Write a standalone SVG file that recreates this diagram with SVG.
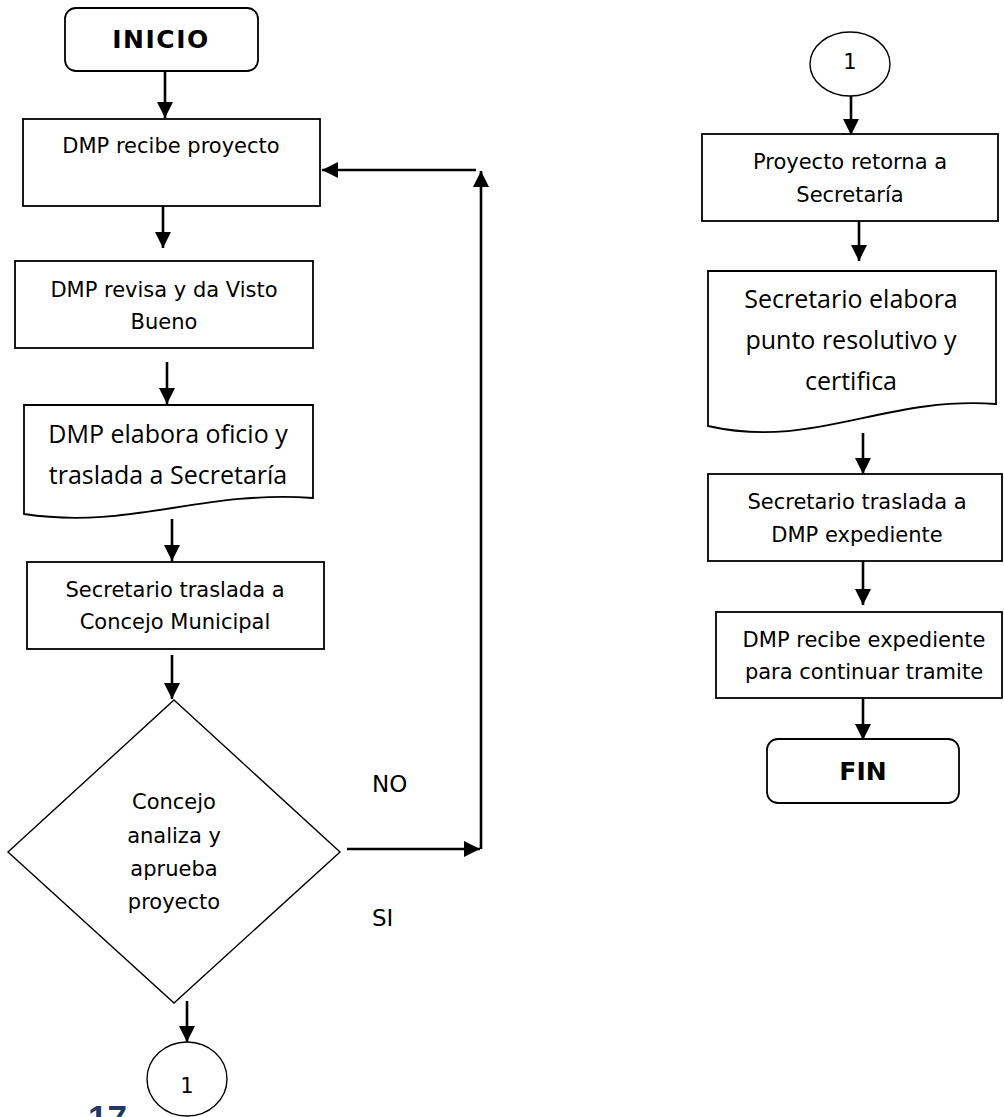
<svg xmlns="http://www.w3.org/2000/svg" width="1004" height="1117" viewBox="0 0 1004 1117">
  <defs>
    <marker id="arrow" markerUnits="userSpaceOnUse" markerWidth="16" markerHeight="16" refX="16" refY="8" orient="auto">
      <path d="M0,0 L16,8 L0,16 Z" fill="#000"/>
    </marker>
    <style>
      .box { fill: #fff; stroke: #000; stroke-width: 1.8; }
      .thin { fill: #fff; stroke: #000; stroke-width: 1.4; }
      .conn-a { fill: none; stroke: #000; stroke-width: 2.6; marker-end: url(#arrow); }
      .t { font-family: "DejaVu Sans", Verdana, sans-serif; font-size: 21px; fill: #000; text-anchor: middle; }
      .tb { font-family: "DejaVu Sans", Verdana, sans-serif; font-size: 25px; font-weight: bold; fill: #000; text-anchor: middle; }
      .td { font-family: "Open Sans", "Noto Sans", sans-serif; font-size: 25px; fill: #000; text-anchor: middle; }
      .lbl { font-family: "DejaVu Sans", Verdana, sans-serif; font-size: 23px; fill: #000; }
    </style>
  </defs>

  <rect width="1004" height="1117" fill="#fff"/>

  <!-- connectors -->
  <g id="connectors">
    <line class="conn-a" x1="165" y1="71" x2="165" y2="118"/>
    <line class="conn-a" x1="163" y1="206" x2="163" y2="248"/>
    <line class="conn-a" x1="167" y1="362" x2="167" y2="404"/>
    <line class="conn-a" x1="172" y1="519" x2="172" y2="561"/>
    <line class="conn-a" x1="172" y1="655" x2="172" y2="699"/>
    <line class="conn-a" x1="187" y1="1001" x2="187" y2="1042"/>
    <!-- NO branch back to the first step -->
    <line class="conn-a" x1="347" y1="849" x2="480" y2="849"/>
    <line class="conn-a" x1="481" y1="849" x2="481" y2="171"/>
    <line class="conn-a" x1="476" y1="170" x2="322" y2="170"/>
    <!-- right column -->
    <line class="conn-a" x1="851" y1="96" x2="851" y2="135"/>
    <line class="conn-a" x1="859" y1="221" x2="859" y2="261"/>
    <line class="conn-a" x1="863" y1="433" x2="863" y2="474"/>
    <line class="conn-a" x1="863" y1="561" x2="863" y2="605"/>
    <line class="conn-a" x1="863" y1="698" x2="863" y2="740"/>
  </g>

  <!-- left column -->
  <g id="inicio">
    <rect class="box" x="65" y="8" width="193" height="63" rx="11"/>
    <text class="tb" x="161" y="48" letter-spacing="1.5">INICIO</text>
  </g>

  <g id="recibe-proyecto">
    <rect class="box" x="23" y="119" width="297" height="87"/>
    <text class="t" x="171" y="153">DMP recibe proyecto</text>
  </g>

  <g id="revisa">
    <rect class="box" x="15" y="261" width="298" height="87"/>
    <text class="t" x="164" y="297">DMP revisa y da Visto</text>
    <text class="t" x="164" y="329">Bueno</text>
  </g>

  <g id="elabora-oficio">
    <path class="box" d="M24,405 H313 V498 C200,490 130,530 24,514 Z"/>
    <text class="td" x="168" y="443">DMP elabora oficio y</text>
    <text class="td" x="168" y="484">traslada a Secretaría</text>
  </g>

  <g id="traslada-concejo">
    <rect class="box" x="27" y="562" width="297" height="87"/>
    <text class="t" x="175" y="597">Secretario traslada a</text>
    <text class="t" x="175" y="629">Concejo Municipal</text>
  </g>

  <g id="decision">
    <polygon class="thin" points="174,700 340,852 174,1003 8,852"/>
    <text class="t" x="174" y="809">Concejo</text>
    <text class="t" x="174" y="843">analiza y</text>
    <text class="t" x="174" y="876">aprueba</text>
    <text class="t" x="174" y="909">proyecto</text>
  </g>

  <g id="labels">
    <text class="lbl" x="372" y="792">NO</text>
    <text class="lbl" x="372" y="926">SI</text>
  </g>

  <g id="conector-salida">
    <ellipse class="thin" cx="187" cy="1079" rx="40" ry="37"/>
    <text class="t" x="187" y="1093" font-size="22">1</text>
  </g>

  <!-- right column -->
  <g id="conector-entrada">
    <ellipse class="thin" cx="850" cy="64" rx="40" ry="32"/>
    <text class="t" x="850" y="69">1</text>
  </g>

  <g id="retorna">
    <rect class="box" x="702" y="134" width="296" height="87"/>
    <text class="t" x="850" y="169">Proyecto retorna a</text>
    <text class="t" x="850" y="202">Secretaría</text>
  </g>

  <g id="punto-resolutivo">
    <path class="box" d="M708,271 H996 V404 C883,396 813,450 708,426 Z"/>
    <text class="td" x="851" y="308">Secretario elabora</text>
    <text class="td" x="851" y="349">punto resolutivo y</text>
    <text class="td" x="851" y="390">certifica</text>
  </g>

  <g id="traslada-dmp">
    <rect class="box" x="708" y="474" width="294" height="87"/>
    <text class="t" x="857" y="509">Secretario traslada a</text>
    <text class="t" x="857" y="542">DMP expediente</text>
  </g>

  <g id="recibe-expediente">
    <rect class="box" x="716" y="612" width="286" height="86"/>
    <text class="t" x="864" y="647">DMP recibe expediente</text>
    <text class="t" x="864" y="679">para continuar tramite</text>
  </g>

  <g id="fin">
    <rect class="box" x="767" y="739" width="192" height="64" rx="11"/>
    <text class="tb" x="863" y="780">FIN</text>
  </g>

  <!-- page number, cut by the page edge -->
  <text x="88" y="1130" font-family="'Liberation Sans', Arial, sans-serif" font-size="35" font-weight="bold" fill="#1f3864">17</text>
</svg>
